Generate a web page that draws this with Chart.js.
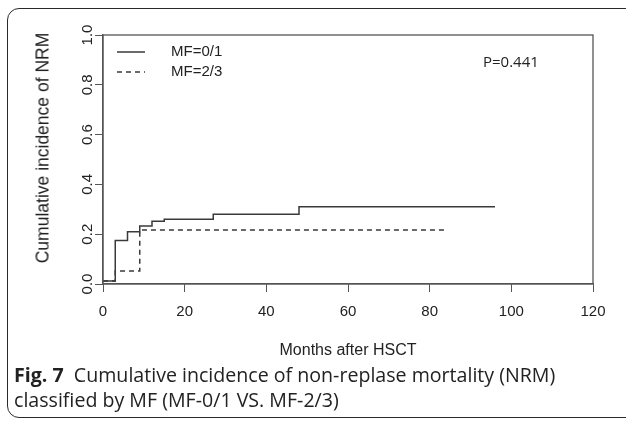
<!DOCTYPE html>
<html>
<head>
<meta charset="utf-8">
<script src="https://cdn.jsdelivr.net/npm/chart.js@4"></script>
<style>
  html, body { margin: 0; padding: 0; background: #fff; }
  #wrap { position: relative; width: 626px; height: 423px; overflow: hidden; }
  #frame { position: absolute; left: 7px; top: 8px; width: 630px; height: 408px;
           border: 1.4px solid #2a2a2a; border-radius: 12px; }
  canvas { position: absolute; left: 0; top: 0; }
  #ytitle { position: absolute; left: 43px; top: 148px; width: 300px; margin-left: -150px;
            text-align: center; transform: translateY(-50%) rotate(-90deg);
            font: 17.5px "Liberation Sans", Arial, sans-serif; color: #222; white-space: nowrap; }
  #pval { position: absolute; left: 483px; top: 51px; font: 15px "Open Sans", sans-serif; color: #222; }
  #caption { position: absolute; left: 14px; top: 362px; font: 19.6px "Open Sans", sans-serif;
             line-height: 25px; color: #222; white-space: nowrap; }
  #caption b { font-weight: 700; }
</style>
</head>
<body>
<div id="wrap">
  <div id="frame"></div>
  <canvas id="chartNRM" width="626" height="423"></canvas>
  <div id="ytitle">Cumulative incidence of NRM</div>
  <div id="pval">P=0.441</div>
  <div id="caption"><b>Fig. 7</b>&nbsp; Cumulative incidence of non-replase mortality (NRM)<br>classified by MF (MF-0/1 VS. MF-2/3)</div>
</div>
<script>
//* DATOS
const mesesMF01 = [0, 3, 6, 9, 12, 15, 27, 48, 96];
const incidenciaMF01 = [0.012, 0.175, 0.21, 0.233, 0.252, 0.26, 0.28, 0.31, 0.31];
const mesesMF23 = [0, 3, 9, 84];
const incidenciaMF23 = [0.012, 0.052, 0.217, 0.217];
const etiquetas = ['MF=0/1', 'MF=2/3'];
const xTicks = [0, 20, 40, 60, 80, 100, 120];
const yTicks = [0.0, 0.2, 0.4, 0.6, 0.8, 1.0];

const toPoints = (xs, ys) => xs.map((x, i) => ({ x: x, y: ys[i] }));

const ctxNRM = document.getElementById('chartNRM');

// caja completa del area de trazado + leyenda estilo R
const boxAndLegend = {
    id: 'boxAndLegend',
    afterDraw(chart) {
        const { ctx, chartArea: a } = chart;
        ctx.save();
        ctx.strokeStyle = '#555';
        ctx.lineWidth = 1.3;
        ctx.strokeRect(a.left, a.top, a.right - a.left, a.bottom - a.top);
        chart.data.datasets.forEach((ds, i) => {
            const y = 52 + i * 20;
            ctx.strokeStyle = ds.borderColor;
            ctx.lineWidth = ds.borderWidth;
            ctx.setLineDash(ds.borderDash || []);
            ctx.beginPath();
            ctx.moveTo(117, y);
            ctx.lineTo(145, y);
            ctx.stroke();
            ctx.setLineDash([]);
            ctx.fillStyle = '#222';
            ctx.font = '15px "Liberation Sans", Arial, sans-serif';
            ctx.textBaseline = 'middle';
            ctx.fillText(ds.label, 171, y);
        });
        ctx.restore();
    }
};

const tickGrid = {
    display: true,
    drawOnChartArea: false,
    drawTicks: true,
    tickLength: 8,
    color: '#555',
    lineWidth: 1
};

new Chart(ctxNRM, {
    type: 'line',
    data: {
        datasets: [{
            label: etiquetas[0],
            data: toPoints(mesesMF01, incidenciaMF01),
            borderColor: '#3a3a3a',
            borderWidth: 1.5,
            stepped: 'before',
            pointRadius: 0
        }, {
            label: etiquetas[1],
            data: toPoints(mesesMF23, incidenciaMF23),
            borderColor: '#3a3a3a',
            borderWidth: 1.5,
            borderDash: [5, 4],
            stepped: 'before',
            pointRadius: 0
        }]
    },
    options: {
        responsive: false,
        animation: false,
        layout: { padding: { top: 35, right: 33, left: 0, bottom: 62.4 } },
        plugins: { legend: { display: false }, tooltip: { enabled: false } },
        scales: {
            x: {
                type: 'linear',
                min: 0,
                max: 120,
                afterBuildTicks: (s) => { s.ticks = xTicks.map(v => ({ value: v })); },
                afterFit: (s) => { s.height = 76.6; },
                grid: tickGrid,
                border: { display: true, color: '#555', width: 1.3 },
                ticks: {
                    color: '#222',
                    padding: 11,
                    maxRotation: 0,
                    font: { family: '"Liberation Sans", Arial, sans-serif', size: 15 }
                },
                title: {
                    display: true,
                    text: 'Months after HSCT',
                    color: '#222',
                    padding: { top: 0, bottom: 0 },
                    font: { family: '"Liberation Sans Narrow", "Liberation Sans", sans-serif', size: 16 }
                }
            },
            y: {
                type: 'linear',
                min: 0,
                max: 1,
                afterBuildTicks: (s) => { s.ticks = yTicks.map(v => ({ value: v })); },
                afterFit: (s) => { s.width = 103; },
                grid: tickGrid,
                border: { display: true, color: '#555', width: 1.3 },
                ticks: {
                    color: '#222',
                    padding: -3,
                    minRotation: 90,
                    maxRotation: 90,
                    crossAlign: 'center',
                    callback: (v) => Number(v).toFixed(1),
                    font: { family: '"Liberation Sans", Arial, sans-serif', size: 15 }
                }
            }
        }
    },
    plugins: [boxAndLegend]
});
</script>
</body>
</html>
